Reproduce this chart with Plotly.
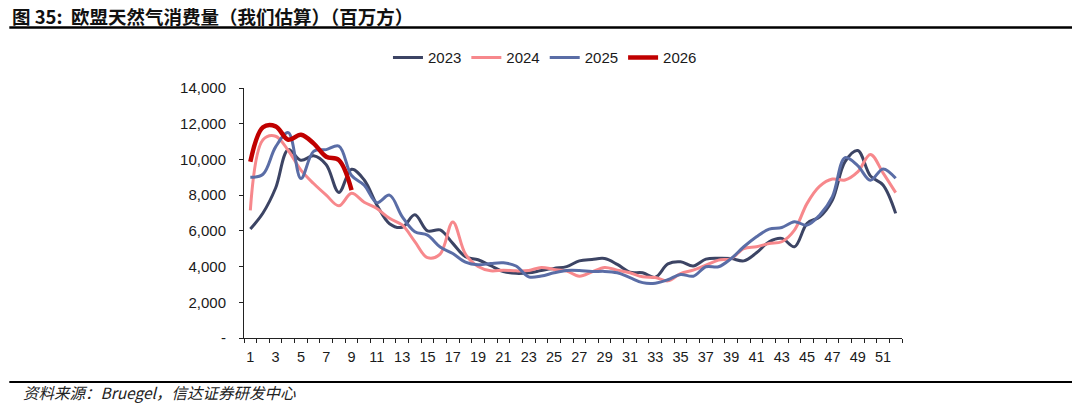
import plotly.graph_objects as go

weeks = list(range(1, 53))

y2023 = [6100, 7000, 8400, 10550, 9950, 10200, 9700, 8150, 9450, 8850,
         7450, 6400, 6200, 6900, 6000, 6050, 5300, 4550, 4380, 4050,
         3720, 3620, 3650, 3780, 3900, 4000, 4320, 4400, 4450, 4120,
         3680, 3650, 3400, 4150, 4270, 4030, 4420, 4470, 4450, 4320,
         4770, 5390, 5580, 5110, 6420, 6790, 7730, 9880, 10500, 9080,
         8570, 6980]

y2024 = [7150, 11100, 11300, 10500, 9400, 8650, 8000, 7400, 8100, 7600,
         7250, 6700, 6330, 5400, 4500, 4700, 6500, 4700, 4000, 3760,
         3800, 3760, 3780, 3950, 3840, 3750, 3460, 3700, 3950, 3800,
         3650, 3430, 3390, 3200, 3610, 3800, 4080, 4360, 4450, 5010,
         5110, 5290, 5390, 6040, 7540, 8500, 8900, 8850, 9300, 10280,
         9250, 8140]

y2025 = [9000, 9170, 10700, 11500, 8930, 10450, 10550, 10750, 9100, 8560,
         7580, 8000, 6800, 5950, 5760, 5100, 4730, 4250, 4100, 4170,
         4210, 4030, 3420, 3470, 3650, 3780, 3780, 3720, 3730, 3650,
         3380, 3100, 3070, 3260, 3560, 3460, 3990, 3990, 4450, 5110,
         5670, 6100, 6190, 6510, 6320, 6890, 7920, 10100, 9650, 8830,
         9470, 8940]

y2026 = [9870, 11800, 11850, 11100, 11380, 10900, 10150, 9960, 8280]

series = [
    ("2023", y2023, "#3C4464", 3),
    ("2024", y2024, "#F7888C", 3),
    ("2025", y2025, "#5A6DA6", 3),
    ("2026", y2026, "#C00000", 4.5),
]

ytick_vals = [0, 2000, 4000, 6000, 8000, 10000, 12000, 14000]
ytick_text = ["-", "2,000", "4,000", "6,000", "8,000", "10,000", "12,000", "14,000"]
xtick_vals = list(range(1, 53, 2))

title_text = "<b>图 35:  欧盟天然气消费量（我们估算）（百万方）</b>"
source_text = "<i>资料来源：Bruegel，信达证券研发中心</i>"

fig = go.Figure()
for name, vals, color, w in series:
    fig.add_trace(go.Scatter(
        x=weeks[:len(vals)], y=vals, name=name, mode="lines",
        line=dict(color=color, width=w, shape="spline", smoothing=1.0),
    ))

# page body has an 8px margin: work in screen pixels, then shift
OFF = 8
W, H = 1080, 412
L, R, T, B = 244.4 - OFF, 901.6 - OFF, 88.3 - OFF, 337.7 - OFF


def px_x(px):
    return (px - OFF - L) / (R - L)


def px_y(py):
    return (B - (py - OFF)) / (B - T)


font_lat = "Liberation Sans, Arial, sans-serif"
font_cjk = "Noto Sans CJK SC, sans-serif"

fig.update_layout(
    width=W, height=H, autosize=False,
    margin=dict(l=L, r=W - R, t=T, b=H - B, pad=0),
    paper_bgcolor="white", plot_bgcolor="white",
    font=dict(family=font_lat, size=14, color="#1a1a1a"),
    showlegend=True,
    legend=dict(orientation="h", x=px_x(545), y=px_y(58),
                xanchor="center", yanchor="middle",
                font=dict(family=font_lat, size=15, color="#1a1a1a"),
                bgcolor="rgba(0,0,0,0)", itemwidth=30, tracegroupgap=0),
    annotations=[
        dict(text=title_text, xref="paper", yref="paper",
             x=px_x(11), y=px_y(16.5), xanchor="left", yanchor="middle",
             showarrow=False, font=dict(family=font_cjk, size=18.5, color="#111")),
        dict(text=source_text, xref="paper", yref="paper",
             x=px_x(22), y=px_y(392), xanchor="left", yanchor="middle",
             showarrow=False, font=dict(family=font_cjk, size=15.5, color="#222")),
    ],
    xaxis=dict(range=[0.5, 52.5], tickmode="array", tickvals=xtick_vals,
               ticks="", showgrid=False, zeroline=False,
               showline=True, linecolor="#222", linewidth=1,
               tickfont=dict(family=font_lat, size=14.5, color="#1a1a1a"),
               ticklabelstandoff=6,
               minor=dict(tickmode="linear", tick0=0.5, dtick=1, ticks="outside",
                          ticklen=4, tickcolor="#222", tickwidth=1, showgrid=False)),
    yaxis=dict(range=[0, 14000], tickmode="array", tickvals=ytick_vals,
               ticktext=ytick_text, ticks="outside", ticklen=4,
               tickcolor="#222", tickwidth=1, showgrid=False, zeroline=False,
               showline=True, linecolor="#222", linewidth=1,
               tickfont=dict(family=font_lat, size=15, color="#1a1a1a"),
               ticklabelstandoff=10),
    shapes=[
        dict(type="line", xref="paper", yref="paper",
             x0=px_x(10), x1=px_x(1090), y0=px_y(28), y1=px_y(28),
             line=dict(color="#000", width=2.5)),
        dict(type="line", xref="paper", yref="paper",
             x0=px_x(10), x1=px_x(1090), y0=px_y(381.5), y1=px_y(381.5),
             line=dict(color="#000", width=2)),
    ],
)

fig.write_html("out.html")
